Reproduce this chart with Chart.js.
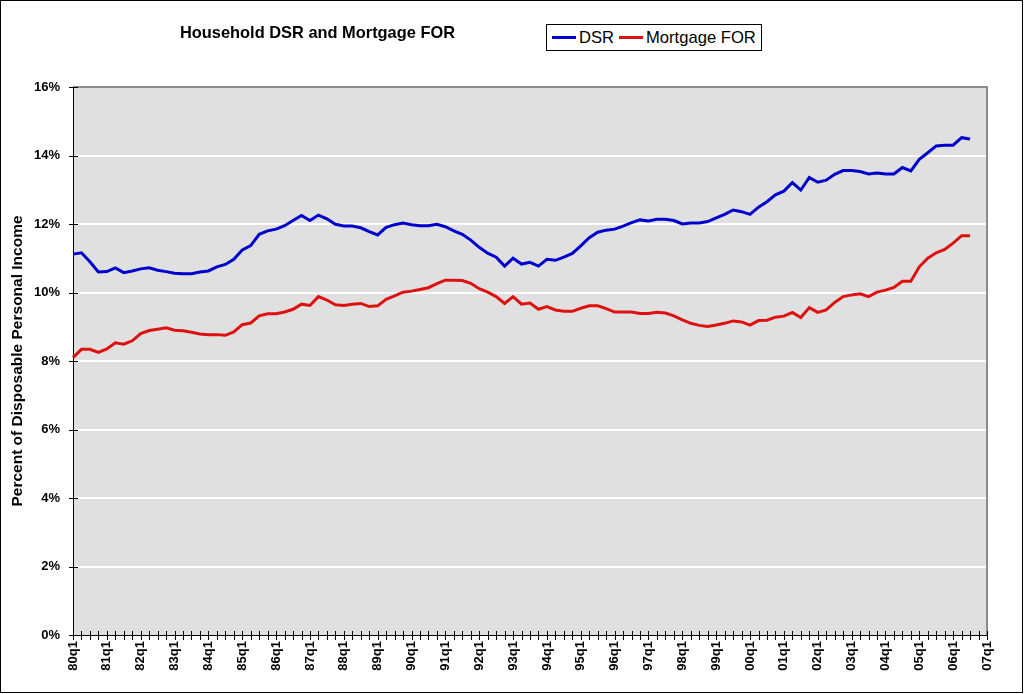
<!DOCTYPE html>
<html>
<head>
<meta charset="utf-8">
<script src="https://cdn.jsdelivr.net/npm/chart.js@4"></script>
<style>
  html, body { margin:0; padding:0; background:#fff; }
  #wrap { position:relative; width:1024px; height:694px; }
  #frame { position:absolute; left:0; top:0; width:1023px; height:693px; box-sizing:border-box; border:1px solid #000; pointer-events:none; }
  #title { position:absolute; left:180px; top:23px; font:bold 16.4px "Liberation Sans", Arial, sans-serif; color:#000; white-space:nowrap; }
  #legend { position:absolute; left:546px; top:24px; width:216px; height:27px; box-sizing:border-box; border:1px solid #000; background:#fff;
            font:16.6px "Liberation Sans", Arial, sans-serif; color:#000; display:flex; align-items:center; padding-left:5px; white-space:nowrap; }
  .sw { display:inline-block; width:24px; height:3px; margin-right:3px; }
</style>
</head>
<body>
<div id="wrap">
  <canvas id="c" width="1024" height="694"></canvas>
  <div id="title">Household DSR and Mortgage FOR</div>
  <div id="legend">
    <span class="sw" style="background:#0000cc"></span><span>DSR</span>
    <span class="sw" style="background:#dd1111;margin-left:5px"></span><span>Mortgage FOR</span>
  </div>
  <div id="frame"></div>
</div>
<script>
// ---- data ----
const years = ['80','81','82','83','84','85','86','87','88','89','90','91','92','93','94','95','96','97','98','99','00','01','02','03','04','05','06'];
const quarters = ['q1','q2','q3','q4'];
const lastCategory = '07q1';

const dsr = [
  11.12, 11.16, 10.90, 10.60, 10.61, 10.72, 10.58, 10.63, 10.69, 10.72,
  10.65, 10.61, 10.56, 10.55, 10.55, 10.60, 10.63, 10.75, 10.82, 10.97,
  11.24, 11.37, 11.70, 11.80, 11.85, 11.95, 12.10, 12.25, 12.10, 12.26,
  12.15, 11.99, 11.94, 11.94, 11.89, 11.78, 11.68, 11.90, 11.98, 12.03,
  11.98, 11.95, 11.95, 11.99, 11.92, 11.80, 11.70, 11.53, 11.32, 11.15,
  11.03, 10.77, 11.00, 10.83, 10.88, 10.77, 10.97, 10.94, 11.03, 11.14,
  11.36, 11.60, 11.76, 11.82, 11.85, 11.94, 12.04, 12.12, 12.09, 12.14,
  12.14, 12.10, 12.00, 12.03, 12.03, 12.07, 12.18, 12.28, 12.41, 12.36,
  12.28, 12.49, 12.65, 12.85, 12.96, 13.21, 12.99, 13.36, 13.22, 13.28,
  13.45, 13.56, 13.56, 13.53, 13.46, 13.49, 13.46, 13.46, 13.65, 13.55,
  13.89, 14.08, 14.28, 14.30, 14.30, 14.52, 14.48
];
const mortgageFor = [
  8.10, 8.34, 8.34, 8.25, 8.35, 8.53, 8.49, 8.59, 8.80, 8.89,
  8.93, 8.97, 8.90, 8.88, 8.84, 8.79, 8.77, 8.77, 8.75, 8.85,
  9.06, 9.11, 9.32, 9.38, 9.38, 9.43, 9.51, 9.66, 9.62, 9.88,
  9.78, 9.64, 9.62, 9.66, 9.68, 9.59, 9.61, 9.80, 9.90, 10.01,
  10.04, 10.09, 10.14, 10.26, 10.36, 10.36, 10.35, 10.27, 10.11, 10.01,
  9.88, 9.68, 9.88, 9.66, 9.69, 9.51, 9.59, 9.49, 9.45, 9.45,
  9.54, 9.61, 9.61, 9.53, 9.43, 9.43, 9.43, 9.39, 9.39, 9.42,
  9.40, 9.32, 9.20, 9.10, 9.04, 9.01, 9.05, 9.10, 9.17, 9.14,
  9.05, 9.18, 9.19, 9.28, 9.31, 9.42, 9.27, 9.56, 9.42, 9.49,
  9.71, 9.88, 9.93, 9.96, 9.88, 10.01, 10.07, 10.15, 10.33, 10.33,
  10.75, 11.00, 11.16, 11.26, 11.44, 11.66, 11.66
];
const yTicks = [0, 2, 4, 6, 8, 10, 12, 14, 16];

const categories = [];
years.forEach(y => quarters.forEach(q => categories.push(y + q)));
categories.push(lastCategory);

// ---- plugin: plot background, axes, cross ticks ----
const plotFrame = {
  id: 'plotFrame',
  beforeDraw(chart) {
    const {ctx, chartArea: a} = chart;
    ctx.save();
    ctx.fillStyle = '#e0e0e0';
    ctx.fillRect(a.left, a.top, a.right - a.left, a.bottom - a.top);
    ctx.restore();
  },
  beforeDatasetsDraw(chart) {
    const {ctx, chartArea: a, scales} = chart;
    ctx.save();
    ctx.strokeStyle = '#8c8c8c';
    ctx.lineWidth = 2;
    ctx.beginPath();
    ctx.moveTo(a.left, a.top); ctx.lineTo(a.right, a.top); ctx.lineTo(a.right, a.bottom);
    ctx.stroke();
    ctx.strokeStyle = '#000';
    ctx.lineWidth = 1;
    ctx.beginPath();
    ctx.moveTo(a.left + 0.5, a.top); ctx.lineTo(a.left + 0.5, a.bottom + 0.5);
    ctx.lineTo(a.right, a.bottom + 0.5);
    ctx.stroke();
    const xs = scales.x;
    ctx.beginPath();
    for (let i = 0; i < categories.length; i++) {
      const px = Math.round(xs.getPixelForValue(i)) + 0.5;
      ctx.moveTo(px, a.bottom - 4); ctx.lineTo(px, a.bottom + 5);
    }
    const ys = scales.y;
    yTicks.forEach(v => {
      const py = Math.round(ys.getPixelForValue(v)) + 0.5;
      ctx.moveTo(a.left - 4, py); ctx.lineTo(a.left + 5, py);
    });
    ctx.stroke();
    ctx.restore();
  }
};

new Chart(document.getElementById('c'), {
  type: 'line',
  data: {
    labels: categories,
    datasets: [
      { label: 'DSR', data: dsr, borderColor: '#0000cc', backgroundColor: '#0000cc', borderWidth: 3, pointRadius: 0, tension: 0, fill: false },
      { label: 'Mortgage FOR', data: mortgageFor, borderColor: '#dd1111', backgroundColor: '#dd1111', borderWidth: 3, pointRadius: 0, tension: 0, fill: false }
    ]
  },
  options: {
    responsive: false,
    animation: false,
    devicePixelRatio: 1,
    layout: { padding: { top: 87, right: 37, left: 0, bottom: 0 } },
    plugins: { legend: { display: false }, title: { display: false }, tooltip: { enabled: false } },
    scales: {
      x: {
        type: 'category',
        offset: false,
        grid: { display: false, drawTicks: false },
        border: { display: false },
        ticks: {
          autoSkip: false,
          minRotation: 90,
          maxRotation: 90,
          padding: 6,
          color: '#000',
          font: { family: '"Liberation Sans", Arial, sans-serif', size: 13, weight: 'bold' },
          callback: function(val, idx) { return idx % 4 === 0 ? this.getLabelForValue(val) : ''; }
        },
        afterFit: s => { s.height = 59; }
      },
      y: {
        min: 0, max: 16,
        afterBuildTicks: s => { s.ticks = yTicks.map(v => ({ value: v })); },
        grid: {
          drawTicks: false,
          color: c => (c.tick && c.tick.value === 0) ? 'rgba(0,0,0,0)' : '#ffffff',
          lineWidth: 2
        },
        border: { display: false },
        ticks: {
          padding: 13,
          color: '#000',
          font: { family: '"Liberation Sans", Arial, sans-serif', size: 13, weight: 'bold' },
          callback: v => v + '%'
        },
        title: {
          display: true,
          text: 'Percent of Disposable Personal Income',
          color: '#000',
          font: { family: '"Liberation Sans", Arial, sans-serif', size: 15.5, weight: 'bold' },
          padding: { top: 8, bottom: 0 }
        },
        afterFit: s => { s.width = 73; }
      }
    }
  },
  plugins: [plotFrame]
});
</script>
</body>
</html>
